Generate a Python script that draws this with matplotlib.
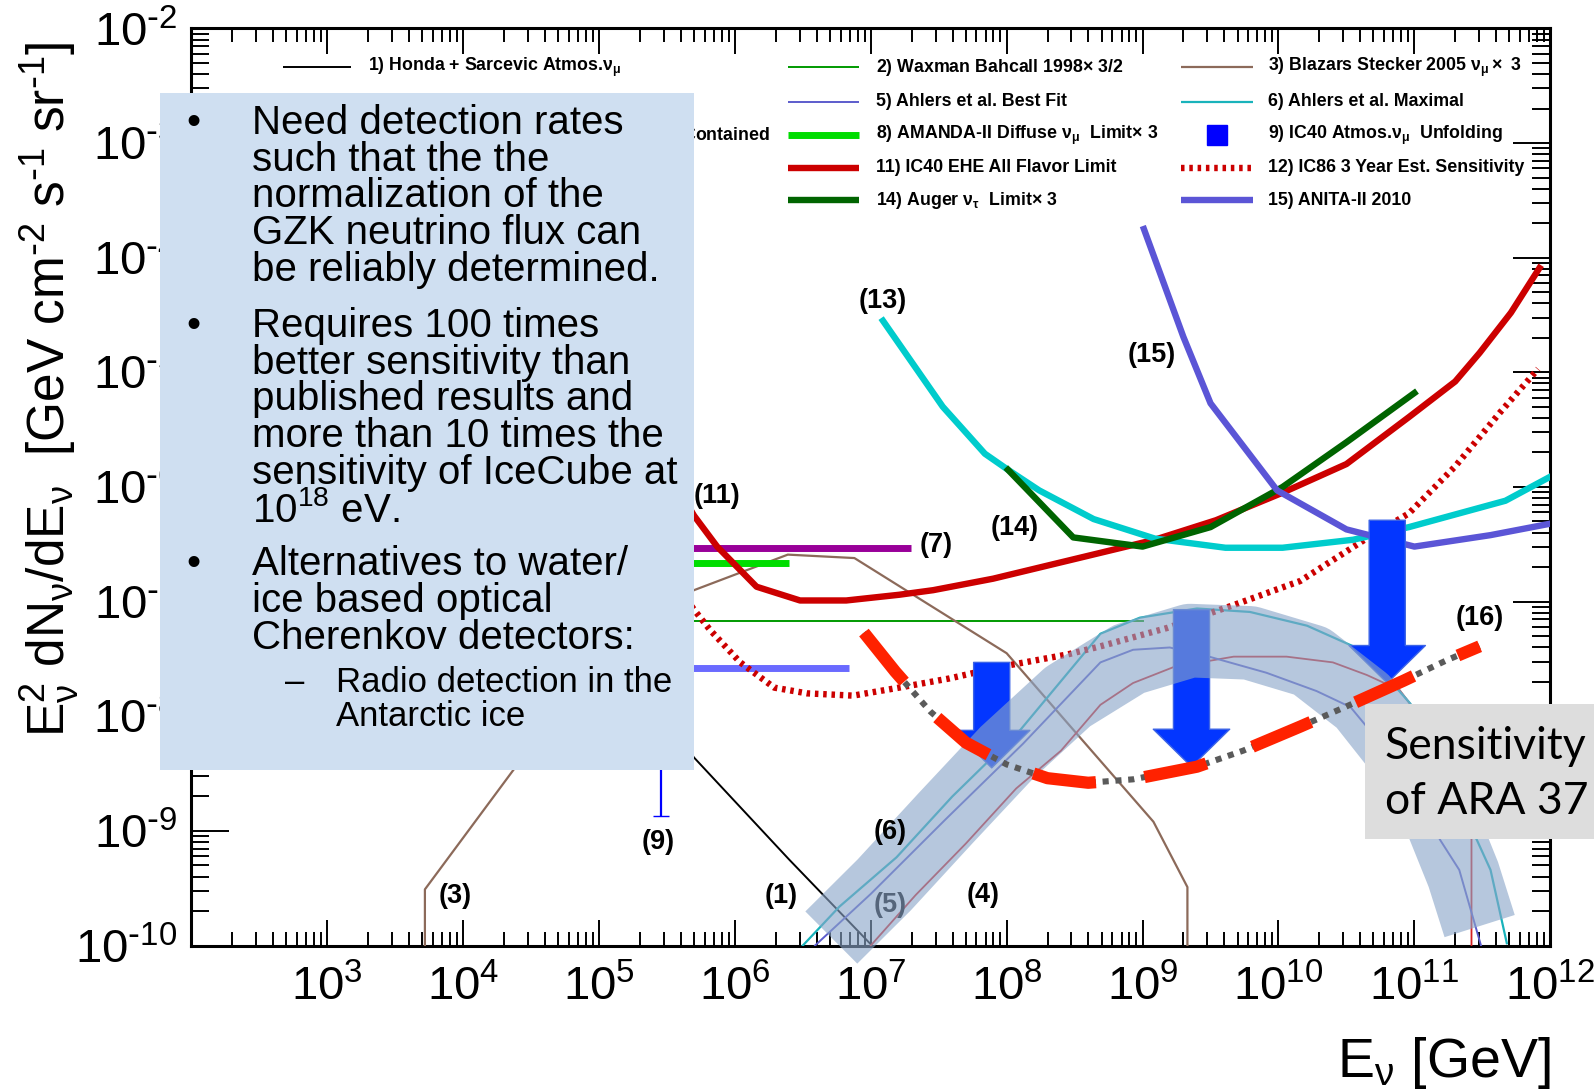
import numpy as np
import matplotlib
matplotlib.use('Agg')
import matplotlib.pyplot as plt
from matplotlib.patches import Rectangle, FancyArrowPatch, ArrowStyle
from matplotlib.ticker import LogLocator, NullFormatter, FixedLocator, FixedFormatter

plt.rcParams['font.family'] = ['Liberation Sans', 'DejaVu Sans']
plt.rcParams['mathtext.default'] = 'regular'

# curves, as log10(E/GeV) and log10(E^2 dN/dE)
honda_logE = [3.0, 4.0, 5.0, 5.70, 6.40, 7.05]
honda_logF = [-4.9, -5.9, -7.2, -8.36, -9.25, -10.05]

stecker_logE = [3.72, 3.72, 4.37, 5.0, 5.70, 6.39, 6.88, 8.00, 9.08, 9.33, 9.33]
stecker_logF = [-10.0, -9.51, -8.47, -7.45, -6.90, -6.59, -6.62, -7.45, -8.92, -9.49, -10.0]

wb_logE = [5.0, 9.0]
wb_logF = [-7.17, -7.17]

ess_logE = [7.00, 7.33, 7.70, 8.07, 8.40, 8.69, 8.93, 9.23, 9.67, 10.06, 10.40, 10.65, 10.89, 11.10, 11.30, 11.42, 11.42]
ess_logF = [-10.0, -9.56, -9.11, -8.63, -8.30, -7.90, -7.71, -7.57, -7.48, -7.48, -7.53, -7.64, -7.77, -8.10, -8.50, -8.70, -10.0]

ahlers_best_logE = [6.59, 7.00, 7.55, 8.12, 8.69, 8.93, 9.20, 9.49, 9.91, 10.28, 10.53, 10.90, 11.19, 11.33, 11.49]
ahlers_best_logF = [-10.0, -9.55, -8.90, -8.24, -7.53, -7.42, -7.40, -7.48, -7.62, -7.78, -7.92, -8.45, -9.08, -9.34, -10.0]

ahlers_max_logE = [6.50, 6.77, 7.19, 7.60, 8.10, 8.69, 8.98, 9.40, 9.79, 10.21, 10.55, 10.77, 10.97, 11.20, 11.46, 11.56, 11.68]
ahlers_max_logF = [-10.0, -9.66, -9.23, -8.70, -8.12, -7.28, -7.14, -7.06, -7.09, -7.21, -7.39, -7.62, -7.89, -8.45, -9.08, -9.34, -9.98]

ic22_logE = [4.5, 7.30]
ic22_logF = [-6.53, -6.53]

amanda_logE = [4.2, 6.40]
amanda_logF = [-6.66, -6.66]

ic40_unf_logE = [2.6, 3.1, 3.6, 4.1, 4.6, 5.0, 5.46]
ic40_unf_logF = [-4.2, -4.9, -5.5, -6.2, -6.9, -7.5, -8.3]
ic40_unf_lo = [-4.4, -5.1, -5.7, -6.4, -7.1, -7.8, -8.87]
ic40_unf_hi = [-4.0, -4.7, -5.3, -6.0, -6.7, -7.2, -7.9]

ic40diff_logE = [4.5, 6.84]
ic40diff_logF = [-7.58, -7.58]

ehe_logE = [5.50, 5.70, 5.87, 6.16, 6.48, 6.82, 7.21, 7.46, 7.90, 8.46, 9.09, 9.54, 10.03, 10.50, 10.96, 11.30, 11.48, 11.71, 11.92]
ehe_logF = [-5.85, -6.25, -6.52, -6.87, -6.99, -6.99, -6.94, -6.90, -6.80, -6.64, -6.46, -6.29, -6.05, -5.80, -5.39, -5.08, -4.83, -4.48, -4.09]

ic86_logE = [5.50, 5.70, 5.82, 6.04, 6.29, 6.53, 6.87, 7.21, 7.58, 7.95, 8.45, 8.69, 9.18, 9.67, 10.16, 10.66, 10.96, 11.30, 11.63, 11.91]
ic86_logF = [-6.75, -7.07, -7.25, -7.53, -7.75, -7.80, -7.82, -7.75, -7.67, -7.57, -7.46, -7.39, -7.23, -7.03, -6.82, -6.44, -6.23, -5.82, -5.35, -4.97]

rice_logE = [7.09, 7.53, 7.84, 8.01, 8.24, 8.64, 9.09, 9.61, 10.03, 10.55, 10.96, 11.67, 12.0]
rice_logF = [-4.55, -5.30, -5.71, -5.85, -6.03, -6.28, -6.45, -6.53, -6.53, -6.46, -6.35, -6.12, -5.91]

auger_logE = [8.01, 8.49, 9.00, 9.50, 10.03, 10.50, 11.00]
auger_logF = [-5.85, -6.44, -6.52, -6.35, -6.00, -5.61, -5.18]

anita_logE = [9.01, 9.30, 9.50, 9.99, 10.50, 11.00, 11.56, 12.0]
anita_logF = [-3.75, -4.69, -5.27, -6.03, -6.37, -6.52, -6.42, -6.32]

# GZK model band and ARA-37 sensitivity
band_logE = [6.71, 7.10, 7.55, 8.00, 8.45, 8.90, 9.35, 9.79, 10.24, 10.62, 10.92, 11.18, 11.36, 11.48]
band_logF = [-9.93, -9.47, -8.89, -8.32, -7.83, -7.50, -7.34, -7.36, -7.52, -7.87, -8.32, -8.85, -9.38, -9.83]

ara_logE = [6.95, 7.18, 7.44, 7.70, 8.00, 8.30, 8.60, 8.93, 9.40, 9.74, 10.16, 10.47, 10.92, 11.24, 11.48]
ara_logF = [-7.27, -7.61, -7.96, -8.23, -8.42, -8.54, -8.58, -8.55, -8.44, -8.30, -8.09, -7.93, -7.69, -7.51, -7.39]

arrow_logE = [7.89, 9.36, 10.80]
arrow_from = [-7.53, -7.07, -6.29]
arrow_to = [-8.45, -8.44, -7.71]

curve_tags = ['(1)', '(3)', '(4)', '(5)', '(6)', '(7)', '(9)', '(11)', '(13)', '(14)', '(15)', '(16)']
tag_logE = [6.34, 3.94, 7.83, 7.14, 7.14, 7.48, 5.44, 5.87, 7.09, 8.06, 9.07, 11.48]
tag_logF = [-9.57, -9.57, -9.56, -9.65, -9.01, -6.51, -9.10, -6.08, -4.38, -6.36, -4.85, -7.14]

# legend entries, row by row (entries 10 and 13 sit fully under the note box)
legend_labels = [
    r'1) Honda + Sarcevic Atmos.$\nu_{\mu}$',
    r'2) Waxman Bahcall 1998$\times$ 3/2',
    r'3) Blazars Stecker 2005 $\nu_{\mu}\times$ 3',
    r'4) ESS $\Omega_{\Lambda}$=0.7 2001',
    '5) Ahlers et al. Best Fit',
    '6) Ahlers et al. Maximal',
    r'7) IC22 Cascades All Flavor Limit$\times$ 3, Contained',
    r'8) AMANDA-II Diffuse $\nu_{\mu}$  Limit$\times$ 3',
    r'9) IC40 Atmos.$\nu_{\mu}$  Unfolding',
    '',
    '11) IC40 EHE All Flavor Limit',
    '12) IC86 3 Year Est. Sensitivity',
    '',
    r'14) Auger $\nu_{\tau}$  Limit$\times$ 3',
    '15) ANITA-II 2010',
]
legend_colors = ['black', '#009a00', '#8c6a5a', '#d42020', '#5c5ccc', '#19b3bb', '#990099', '#00dd00',
                 '#0000ff', '#6a6aff', '#cc0000', '#cc0000', '#00cccc', '#006400', '#5b55d6']
legend_widths = [1.4, 1.4, 1.6, 1.4, 1.4, 1.6, 5, 5, 0, 5, 4.6, 4.6, 4.6, 4.6, 4.6]

dot_style = (0, (0.55, 0.75))

fig = plt.figure(figsize=(15.94, 10.92), dpi=100)
ax = fig.add_axes([0.1199, 0.1341, 0.8527, 0.8399])
ax.set_xscale('log')
ax.set_yscale('log')
ax.set_xlim(1e2, 1e12)
ax.set_ylim(1e-10, 1e-2)


def curve(logE, logF, **kw):
    ax.plot(10.0 ** np.array(logE), 10.0 ** np.array(logF), **kw)


curve(honda_logE, honda_logF, color=legend_colors[0], lw=1.4, zorder=3)
curve(wb_logE, wb_logF, color=legend_colors[1], lw=1.4, zorder=3)
curve(stecker_logE, stecker_logF, color=legend_colors[2], lw=1.6, zorder=3)
curve(ess_logE, ess_logF, color=legend_colors[3], lw=1.3, zorder=3)
curve(ahlers_best_logE, ahlers_best_logF, color=legend_colors[4], lw=1.4, zorder=3)
curve(ahlers_max_logE, ahlers_max_logF, color=legend_colors[5], lw=1.6, zorder=3)
curve(ic22_logE, ic22_logF, color=legend_colors[6], lw=5, solid_capstyle='butt', zorder=3)
curve(amanda_logE, amanda_logF, color=legend_colors[7], lw=5, solid_capstyle='butt', zorder=3)
curve(ic40diff_logE, ic40diff_logF, color=legend_colors[9], lw=5, solid_capstyle='butt', zorder=3)
curve(ehe_logE, ehe_logF, color=legend_colors[10], lw=4.6, zorder=3)
curve(ic86_logE, ic86_logF, color=legend_colors[11], lw=4.6, ls=dot_style, zorder=3)
curve(rice_logE, rice_logF, color=legend_colors[12], lw=4.6, zorder=3)
curve(auger_logE, auger_logF, color=legend_colors[13], lw=4.6, zorder=3)
curve(anita_logE, anita_logF, color=legend_colors[14], lw=4.6, zorder=3)

unf_E = 10.0 ** np.array(ic40_unf_logE)
unf_F = 10.0 ** np.array(ic40_unf_logF)
unf_err = [unf_F - 10.0 ** np.array(ic40_unf_lo), 10.0 ** np.array(ic40_unf_hi) - unf_F]
ax.errorbar(unf_E, unf_F, yerr=unf_err, fmt='s', ms=8, color='#0000ff', lw=1.6, capsize=6, zorder=3)

# ARA arrows, GZK band, sensitivity curve
for e, f0, f1 in zip(arrow_logE, arrow_from, arrow_to):
    arr = FancyArrowPatch((10.0 ** e, 10.0 ** f0), (10.0 ** e, 10.0 ** f1),
                          arrowstyle=ArrowStyle.Simple(head_length=27, head_width=55, tail_width=26),
                          mutation_scale=1, shrinkA=0, shrinkB=0,
                          facecolor='#0336ff', edgecolor='#3c64e6', lw=1.0, zorder=4)
    ax.add_patch(arr)

curve(band_logE, band_logF, color='#8aa5c8', alpha=0.62, lw=53, solid_capstyle='butt',
      solid_joinstyle='round', clip_on=False, zorder=5)

ara_box = Rectangle((0.8565, 0.2318), 0.1435, 0.1239, transform=fig.transFigure,
                    facecolor='#dddddd', edgecolor='none', clip_on=False, zorder=6)
ax.add_artist(ara_box)
ax.text(0.8686, 0.291, 'Sensitivity\nof ARA 37', transform=fig.transFigure, ha='left', va='center',
        fontsize=32, family=['Lato', 'DejaVu Sans'], linespacing=1.42, zorder=7)

curve(ara_logE, ara_logF, color='#5a5a5a', lw=4.4, ls=(0, (1.0, 1.1)), dash_capstyle='butt', zorder=7)
curve(ara_logE, ara_logF, color='#ff2200', lw=8.8, ls=(0, (5.2, 4.0)), dash_capstyle='butt', zorder=8)

for tag, e, f in zip(curve_tags, tag_logE, tag_logF):
    ax.text(10.0 ** e, 10.0 ** f, tag, ha='center', va='center', fontsize=19.5, fontweight='bold',
            zorder=4 if tag == '(5)' else 9)

# ROOT-style legend, three columns
leg_rows = [0.9577, 0.9200, 0.8834, 0.8479, 0.8125]
leg_line_x = [(0.0673, 0.1174), (0.4390, 0.4914), (0.7285, 0.7809)]
leg_text_x = [0.1301, 0.5041, 0.7921]
for i, (lab, col, lw) in enumerate(zip(legend_labels, legend_colors, legend_widths)):
    if not lab:
        continue
    r, c = divmod(i, 3)
    x0, x1 = leg_line_x[c]
    y = leg_rows[r]
    if i == 8:
        ax.plot([(x0 + x1) / 2], [y], 's', ms=15, color=col, transform=ax.transAxes)
    elif i == 11:
        ax.plot([x0, x1], [y, y], color=col, lw=lw, ls=dot_style, transform=ax.transAxes)
    else:
        ax.plot([x0, x1], [y, y], color=col, lw=lw, solid_capstyle='butt', transform=ax.transAxes)
    ax.text(leg_text_x[c], y, lab, transform=ax.transAxes, ha='left', va='center',
            fontsize=12.8, fontweight='bold')

# axes styling, ROOT-like ticks and labels
ax.xaxis.set_major_locator(FixedLocator([10.0 ** k for k in range(2, 13)]))
ax.xaxis.set_major_formatter(FixedFormatter([''] + [r'$\mathdefault{10^{%d}}$' % k for k in range(3, 13)]))
ax.xaxis.set_minor_locator(LogLocator(base=10, subs=np.arange(2, 10), numticks=200))
ax.xaxis.set_minor_formatter(NullFormatter())
ax.yaxis.set_major_locator(FixedLocator([10.0 ** k for k in range(-10, -1)]))
ax.yaxis.set_major_formatter(FixedFormatter([r'$\mathdefault{10^{\text{-}%d}}$' % -k for k in range(-10, -1)]))
ax.yaxis.set_minor_locator(LogLocator(base=10, subs=np.arange(2, 10), numticks=200))
ax.yaxis.set_minor_formatter(NullFormatter())

ax.tick_params(which='both', direction='in', top=True, right=True, width=1.4, labelsize=34)
ax.tick_params(axis='x', which='major', length=19, pad=14)
ax.tick_params(axis='x', which='minor', length=10)
ax.tick_params(axis='y', which='major', length=27, pad=10)
ax.tick_params(axis='y', which='minor', length=13)
for sp in ax.spines.values():
    sp.set_linewidth(2.2)

fig.text(0.0306, 0.644, r'E$_{\nu}^{2}$ dN$_{\nu}$/dE$_{\nu}$  [GeV cm$^{\text{-}2}$ s$^{\text{-}1}$ sr$^{\text{-}1}$]',
         rotation=90, ha='center', va='center', fontsize=37)
fig.text(0.9726, 0.027, r'E$_{\nu}$ [GeV]', ha='right', va='center', fontsize=40)

# slide text box
note_box = Rectangle((0.1001, 0.2952), 0.3355, 0.6192, transform=fig.transFigure,
                     facecolor='#cfdff1', edgecolor='none', clip_on=False, zorder=20)
ax.add_artist(note_box)

note_blocks = [
    'Need detection rates\nsuch that the the\nnormalization of the\nGZK neutrino flux can\nbe reliably determined.',
    'Requires 100 times\nbetter sensitivity than\npublished results and\nmore than 10 times the\n'
    'sensitivity of IceCube at\n$10^{18}$ eV.',
    'Alternatives to water/\nice based optical\nCherenkov detectors:',
]
note_tops = [0.905, 0.719, 0.501]
for txt, top in zip(note_blocks, note_tops):
    ax.text(0.1167, top, '\u2022', transform=fig.transFigure, ha='left', va='top', fontsize=29, zorder=21)
    ax.text(0.1582, top, txt, transform=fig.transFigure, ha='left', va='top', fontsize=29,
            linespacing=0.96, zorder=21)
ax.text(0.1786, 0.390, '\u2013', transform=fig.transFigure, ha='left', va='top', fontsize=25, zorder=21)
ax.text(0.2105, 0.390, 'Radio detection in the\nAntarctic ice', transform=fig.transFigure,
        ha='left', va='top', fontsize=25, linespacing=1.04, zorder=21)

fig.savefig('out.png', dpi=100, facecolor='white')
